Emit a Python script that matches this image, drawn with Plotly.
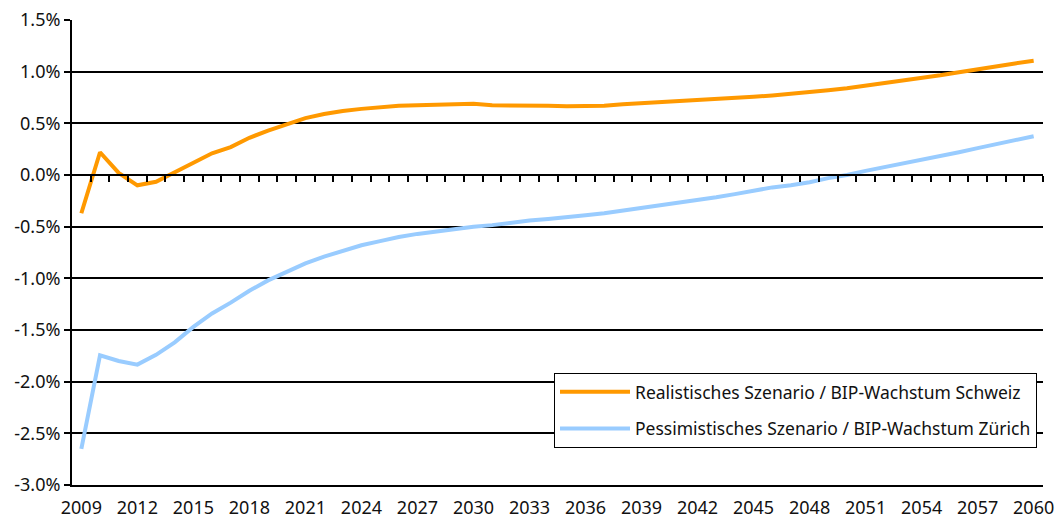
import plotly.graph_objects as go

# Jahre der Prognose
years = list(range(2009, 2061))

# Realistisches Szenario / BIP-Wachstum Schweiz (in %)
realistisch = [
    -0.37, 0.22, 0.02, -0.10, -0.065, 0.03, 0.12, 0.21, 0.27, 0.36,
    0.43, 0.49, 0.55, 0.59, 0.62, 0.64, 0.655, 0.67, 0.675, 0.68,
    0.685, 0.69, 0.675, 0.675, 0.67, 0.67, 0.665, 0.67, 0.67, 0.685,
    0.695, 0.70, 0.71, 0.72, 0.73, 0.745, 0.757, 0.77, 0.785, 0.80,
    0.82, 0.84, 0.865, 0.885, 0.91, 0.94, 0.965, 0.995, 1.025, 1.055,
    1.08, 1.105,
]

# Pessimistisches Szenario / BIP-Wachstum Zürich (in %)
pessimistisch = [
    -2.65, -1.745, -1.80, -1.835, -1.74, -1.62, -1.47, -1.34, -1.235, -1.12,
    -1.02, -0.935, -0.855, -0.79, -0.735, -0.68, -0.64, -0.60, -0.57, -0.545,
    -0.52, -0.50, -0.485, -0.46, -0.44, -0.425, -0.41, -0.39, -0.37, -0.345,
    -0.32, -0.295, -0.27, -0.24, -0.215, -0.185, -0.15, -0.12, -0.10, -0.07,
    -0.03, 0.00, 0.04, 0.075, 0.11, 0.145, 0.185, 0.22, 0.26, 0.30,
    0.34, 0.375,
]

label_years = years[::3]
y_ticks = [-3.0, -2.5, -2.0, -1.5, -1.0, -0.5, 0.0, 0.5, 1.0, 1.5]

FONT = "Noto Sans, DejaVu Sans, sans-serif"
x_range = [years[0] - 0.5, years[-1] + 0.5]
y_range = [y_ticks[0], y_ticks[-1]]

fig = go.Figure()
fig.add_trace(go.Scatter(
    x=years, y=realistisch, mode="lines",
    name="Realistisches Szenario / BIP-Wachstum Schweiz",
    legendgroup="a",
    line=dict(color="#FF9900", width=4),
))
fig.add_trace(go.Scatter(
    x=years, y=pessimistisch, mode="lines",
    name="Pessimistisches Szenario / BIP-Wachstum Zürich",
    legendgroup="b",
    line=dict(color="#99CCFF", width=4),
))

fig.update_layout(
    width=1057, height=520,
    margin=dict(l=72, r=14, t=20, b=35, autoexpand=False),
    paper_bgcolor="white", plot_bgcolor="white",
    font=dict(family=FONT, size=18, color="#111111"),
    showlegend=True,
    legend=dict(
        x=0.4964, y=0.2409, xanchor="left", yanchor="top",
        bgcolor="white", bordercolor="black", borderwidth=1,
        font=dict(size=17.5),
        itemwidth=70,
        traceorder="grouped", tracegroupgap=11,
    ),
    xaxis=dict(
        range=x_range, tickmode="array", tickvals=label_years,
        ticktext=[str(y) for y in label_years],
        showgrid=False, zeroline=False, automargin=False,
        showline=True, linecolor="black", linewidth=2,
        ticks="outside", ticklen=5, tickcolor="rgba(0,0,0,0)",
    ),
    # Kategoriegrenzen als Teilstriche auf der Nulllinie
    xaxis2=dict(
        overlaying="x", anchor="free",
        position=(0 - y_range[0]) / (y_range[1] - y_range[0]),
        range=x_range, tickmode="array",
        tickvals=[y + 0.5 for y in years],
        showticklabels=False, showgrid=False, zeroline=False,
        automargin=False,
        showline=True, linecolor="black", linewidth=2,
        ticks="outside", ticklen=6, tickwidth=2, tickcolor="black",
    ),
    yaxis=dict(
        range=y_range, tickmode="array", tickvals=y_ticks,
        ticktext=[f"{v:.1f}%" for v in y_ticks],
        showgrid=True, gridcolor="black", gridwidth=1.5,
        zeroline=False, automargin=False,
        showline=True, linecolor="black", linewidth=2,
        ticks="outside", ticklen=6, tickwidth=2, tickcolor="black",
    ),
)

# Unsichtbare Hilfsspur, damit die zweite x-Achse gezeichnet wird
fig.add_trace(go.Scatter(
    x=[years[0]], y=[0], xaxis="x2", mode="markers",
    marker=dict(opacity=0), showlegend=False, hoverinfo="skip",
))

fig.write_html("out.html")
